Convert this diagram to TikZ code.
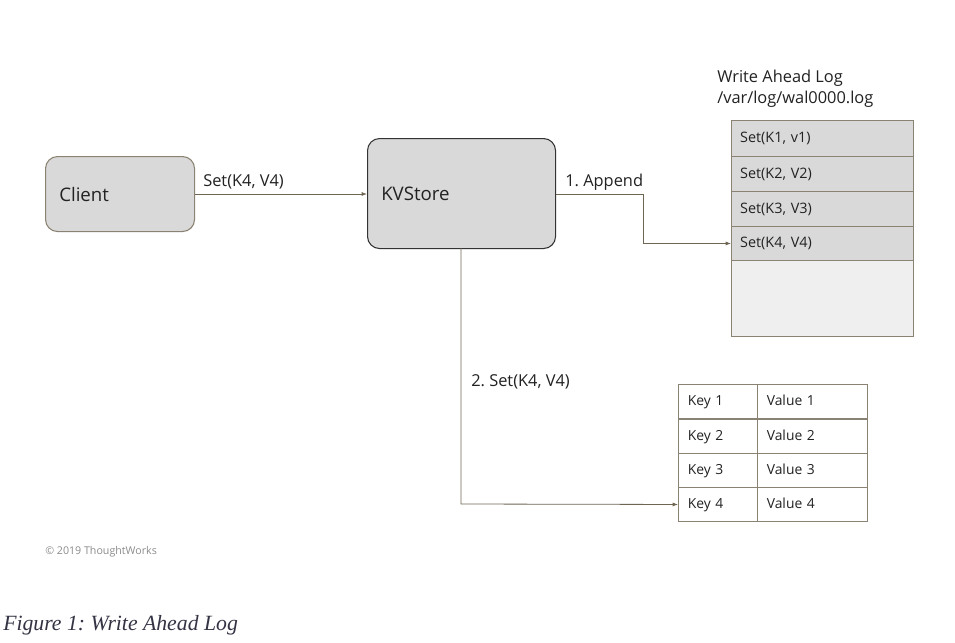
\documentclass[tikz,border=0pt]{standalone}
\usepackage{fontspec}
\setmainfont{Open Sans}
\newfontfamily\capfont{Liberation Serif}
\usetikzlibrary{arrows.meta}
\definecolor{boxfill}{HTML}{D9D9D9}
\definecolor{lightfill}{HTML}{EFEFEF}
\definecolor{tanline}{HTML}{8A8272}
\definecolor{wire}{HTML}{6E6652}
\definecolor{darkline}{HTML}{333333}
\definecolor{txt}{HTML}{222222}
\definecolor{copy}{HTML}{8C8C8C}
\definecolor{capcol}{HTML}{333344}
\frenchspacing
\begin{document}
\begin{tikzpicture}[x=0.75pt,y=-0.75pt,
  rbox/.style={draw, fill=boxfill, rounded corners=9pt, line width=0.8pt, inner sep=0pt},
  cell/.style={draw=tanline, line width=0.7pt, minimum width=#1*0.75pt, text width=#1*0.75pt, align=left, inner sep=0pt, anchor=north west, text=txt, text height=8.2pt, text depth=1.6pt},
  wirestyle/.style={draw=wire, line width=0.6pt, -{Latex[length=4pt,width=3pt]}},
  lbl/.style={text=txt, font=\fontsize{12.3}{14}\selectfont, anchor=base west, inner sep=0pt},
  big/.style={text=txt, font=\fontsize{14}{16}\selectfont, anchor=west, inner sep=0pt}]
\useasboundingbox[fill=white] (0,0) rectangle (955,642);

% Client
\node[rbox, draw=tanline, minimum width=149*0.75pt, minimum height=75*0.75pt, anchor=north west] (client) at (45,156) {};
\node[big] (clientlbl) at (59,194) {Client};
% KVStore
\node[rbox, draw=darkline, minimum width=188*0.75pt, minimum height=110*0.75pt, anchor=north west] (kv) at (367,138) {};
\node[big] (kvlbl) at (381,194) {KVStore};

% WAL title
\node[lbl] (walt1) at (717,82) {Write Ahead Log};
\node[lbl] (walt2) at (717,103) {/var/log/wal0000.log};

% WAL rows
\foreach \i/\t/\ya/\yb in {1/{Set(K1, v1)}/120/156, 2/{Set(K2, V2)}/156/191, 3/{Set(K3, V3)}/191/226, 4/{Set(K4, V4)}/226/260}{
  \node[cell=182, fill=boxfill, minimum height={(\yb-\ya)*0.75pt}, font=\fontsize{10.8}{12}\selectfont] (w\i) at (731,\ya) {\hspace*{6.5pt}\t};
}
\node[cell=182, fill=lightfill, minimum height=76*0.75pt] (w5) at (731,260) {};

% KV table
\foreach \i/\ya in {1/384, 2/419, 3/453, 4/487}{
  \node[cell=79, fill=white, minimum height=34*0.75pt, font=\fontsize{10.4}{12}\selectfont] (k\i) at (678,\ya) {\hspace*{7pt}Key \i};
  \node[cell=110, fill=white, minimum height=34*0.75pt, font=\fontsize{10.4}{12}\selectfont] (v\i) at (757,\ya) {\hspace*{7pt}Value \i};
}

% connectors
\draw[wirestyle] (client.east |- 0,194) -- (kv.west |- 0,194);
\node[lbl] (l1) at (203,186) {Set(K4, V4)};

\coordinate (a1) at (643,194);
\draw[wirestyle] (kv.east |- 0,194) -- (a1) |- (w4.west);
\node[lbl] (l2) at (565,186) {1. Append};

\coordinate (b1) at (461,504);
\draw[wirestyle] (461,248) -- (b1) -- (k4.west);
\node[lbl] (l3) at (471,386) {2. Set(K4, V4)};

% footer
\node[text=copy, font=\fontsize{8}{9}\selectfont, anchor=base west, inner sep=0pt] (cp) at (45,554) {© 2019 ThoughtWorks};
\node[text=capcol, font=\capfont\itshape\fontsize{16.3}{18}\selectfont, anchor=base west, inner sep=0pt] (cap) at (3,630) {Figure 1: Write Ahead Log};
\end{tikzpicture}
\end{document}
